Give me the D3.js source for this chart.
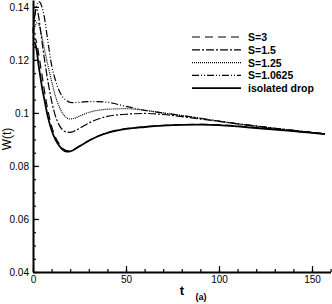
<!DOCTYPE html>
<html>
<head>
<meta charset="utf-8">
<script src="https://cdn.jsdelivr.net/npm/d3@7"></script>
<style>
  body { margin: 0; background: #fff; }
  text { font-family: 'Liberation Sans', Arial, sans-serif; }
</style>
</head>
<body>
<div id="chart"></div>
<script>
const times = [0, 1, 2, 3, 4, 5, 6, 8, 10, 12, 14, 16, 18, 20, 22, 25, 30, 35, 40, 50, 60, 70, 80, 90, 100, 110, 120, 130, 140, 150, 157];

const s3 = [0.1270, 0.1280, 0.1265, 0.1225, 0.1180, 0.1135, 0.1090, 0.1010, 0.0950, 0.0910, 0.0884, 0.0866, 0.0858, 0.0857, 0.0862, 0.0875, 0.0896, 0.0913, 0.0926, 0.0941, 0.0948, 0.0953, 0.0956, 0.0957, 0.0955, 0.0951, 0.0945, 0.0939, 0.0932, 0.0926, 0.0921];
const s15 = [0.1300, 0.1370, 0.1390, 0.1365, 0.1315, 0.1260, 0.1210, 0.1120, 0.1045, 0.0990, 0.0955, 0.0936, 0.0928, 0.0927, 0.0931, 0.0942, 0.0962, 0.0977, 0.0987, 0.0995, 0.0998, 0.0994, 0.0986, 0.0977, 0.0968, 0.0959, 0.0951, 0.0942, 0.0934, 0.0926, 0.0921];
const s125 = [0.1280, 0.1325, 0.1340, 0.1335, 0.1310, 0.1280, 0.1245, 0.1180, 0.1120, 0.1065, 0.1025, 0.0998, 0.0982, 0.0977, 0.0979, 0.0988, 0.1002, 0.1010, 0.1014, 0.1016, 0.1010, 0.1000, 0.0990, 0.0980, 0.0969, 0.0959, 0.0950, 0.0942, 0.0934, 0.0926, 0.0921];
const s10625 = [0.1310, 0.1370, 0.1405, 0.1420, 0.1415, 0.1395, 0.1365, 0.1270, 0.1180, 0.1125, 0.1085, 0.1060, 0.1047, 0.1040, 0.1039, 0.1040, 0.1043, 0.1043, 0.1040, 0.1025, 0.1010, 0.1000, 0.0990, 0.0980, 0.0969, 0.0959, 0.0950, 0.0942, 0.0934, 0.0926, 0.0921];
const isolated = [0.1255, 0.1265, 0.1235, 0.1180, 0.1135, 0.1090, 0.1055, 0.0985, 0.0935, 0.0900, 0.0877, 0.0861, 0.0854, 0.0855, 0.0861, 0.0874, 0.0895, 0.0912, 0.0925, 0.0940, 0.0947, 0.0952, 0.0955, 0.0956, 0.0954, 0.0949, 0.0943, 0.0937, 0.0931, 0.0925, 0.0920];

const seriesNames = ['S=3', 'S=1.5', 'S=1.25', 'S=1.0625', 'isolated drop'];
const seriesValues = [s3, s15, s125, s10625, isolated];
const dashes = ['8,5', '8,2,2,2', '1,1', '7,2,1,2,1,2', null];
const widths = [1.2, 1.2, 1.2, 1.2, 1.8];

const xTicks = [0, 50, 100, 150];
const yTicks = [0.04, 0.06, 0.08, 0.1, 0.12, 0.14];

let width = 332, height = 304;

let margin = {
  top: 0,
  bottom: 32,
  left: 33,
  right: 1
};

let svg = d3.select('#chart')
  .append('svg')
  .attr('width', width)
  .attr('height', height);

let xscale = d3.scaleLinear()
  .domain([0, 160])
  .range([margin.left, margin.left + 160 * 1.86]);

let yscale = d3.scaleLinear()
  .domain([0.04, 0.1426])
  .range([height - margin.bottom, margin.top]);

// minor ticks first, then major
svg.append('g')
  .attr('transform', `translate(0,${height - margin.bottom})`)
  .call(d3.axisBottom(xscale).tickValues(d3.range(0, 161, 10)).tickSize(-3).tickSizeOuter(0).tickFormat(''))
  .call(g => g.select('.domain').remove());

svg.append('g')
  .attr('transform', `translate(${margin.left},0)`)
  .call(d3.axisLeft(yscale).tickValues(d3.range(0.04, 0.1426, 0.005)).tickSize(-3).tickSizeOuter(0).tickFormat(''))
  .call(g => g.select('.domain').remove());

svg.append('g')
  .attr('transform', `translate(0,${height - margin.bottom})`)
  .call(d3.axisBottom(xscale).tickValues(xTicks).tickSize(-6).tickSizeOuter(0).tickPadding(4).tickFormat(d3.format('d')))
  .call(g => g.select('.domain').attr('stroke-width', 2));

svg.append('g')
  .attr('transform', `translate(${margin.left},0)`)
  .call(d3.axisLeft(yscale).tickValues(yTicks).tickSize(-6).tickSizeOuter(0).tickPadding(4).tickFormat(d => d3.format('')(+d.toFixed(2))))
  .call(g => g.select('.domain').attr('stroke-width', 2));

svg.selectAll('.tick text')
  .attr('font-size', 10)
  .attr('fill', '#000')
  .style('font-family', "'Liberation Sans', Arial, sans-serif");

svg.selectAll('.tick line')
  .attr('stroke-width', 1.2);

const line = d3.line()
  .x((d, i) => xscale(times[i]))
  .y(d => yscale(d))
  .curve(d3.curveMonotoneX);

seriesValues.forEach(function(vals, k) {
  svg.append('path')
    .datum(vals)
    .attr('fill', 'none')
    .attr('stroke', 'black')
    .attr('stroke-width', widths[k])
    .attr('stroke-dasharray', dashes[k])
    .attr('d', line);
});

// legend
let legend = svg.append('g');
seriesNames.forEach(function(name, k) {
  let ly = 37 + k * 12.8;
  legend.append('line')
    .attr('x1', 192).attr('x2', 241)
    .attr('y1', ly).attr('y2', ly)
    .attr('stroke', 'black')
    .attr('stroke-width', widths[k])
    .attr('stroke-dasharray', dashes[k]);
  legend.append('text')
    .attr('x', 248)
    .attr('y', ly + 4)
    .attr('font-size', 10.5)
    .attr('font-weight', 'bold')
    .text(name);
});

svg.append('text')
  .attr('x', -139)
  .attr('y', 11)
  .attr('transform', 'rotate(-90)')
  .attr('text-anchor', 'middle')
  .attr('font-size', 12)
  .text('W(t)');

svg.append('text')
  .attr('x', 182)
  .attr('y', 295)
  .attr('text-anchor', 'middle')
  .attr('font-size', 13)
  .attr('font-weight', 'bold')
  .text('t');

svg.append('text')
  .attr('x', 201)
  .attr('y', 300)
  .attr('text-anchor', 'middle')
  .attr('font-size', 9)
  .attr('font-weight', 'bold')
  .text('(a)');
</script>
</body>
</html>
